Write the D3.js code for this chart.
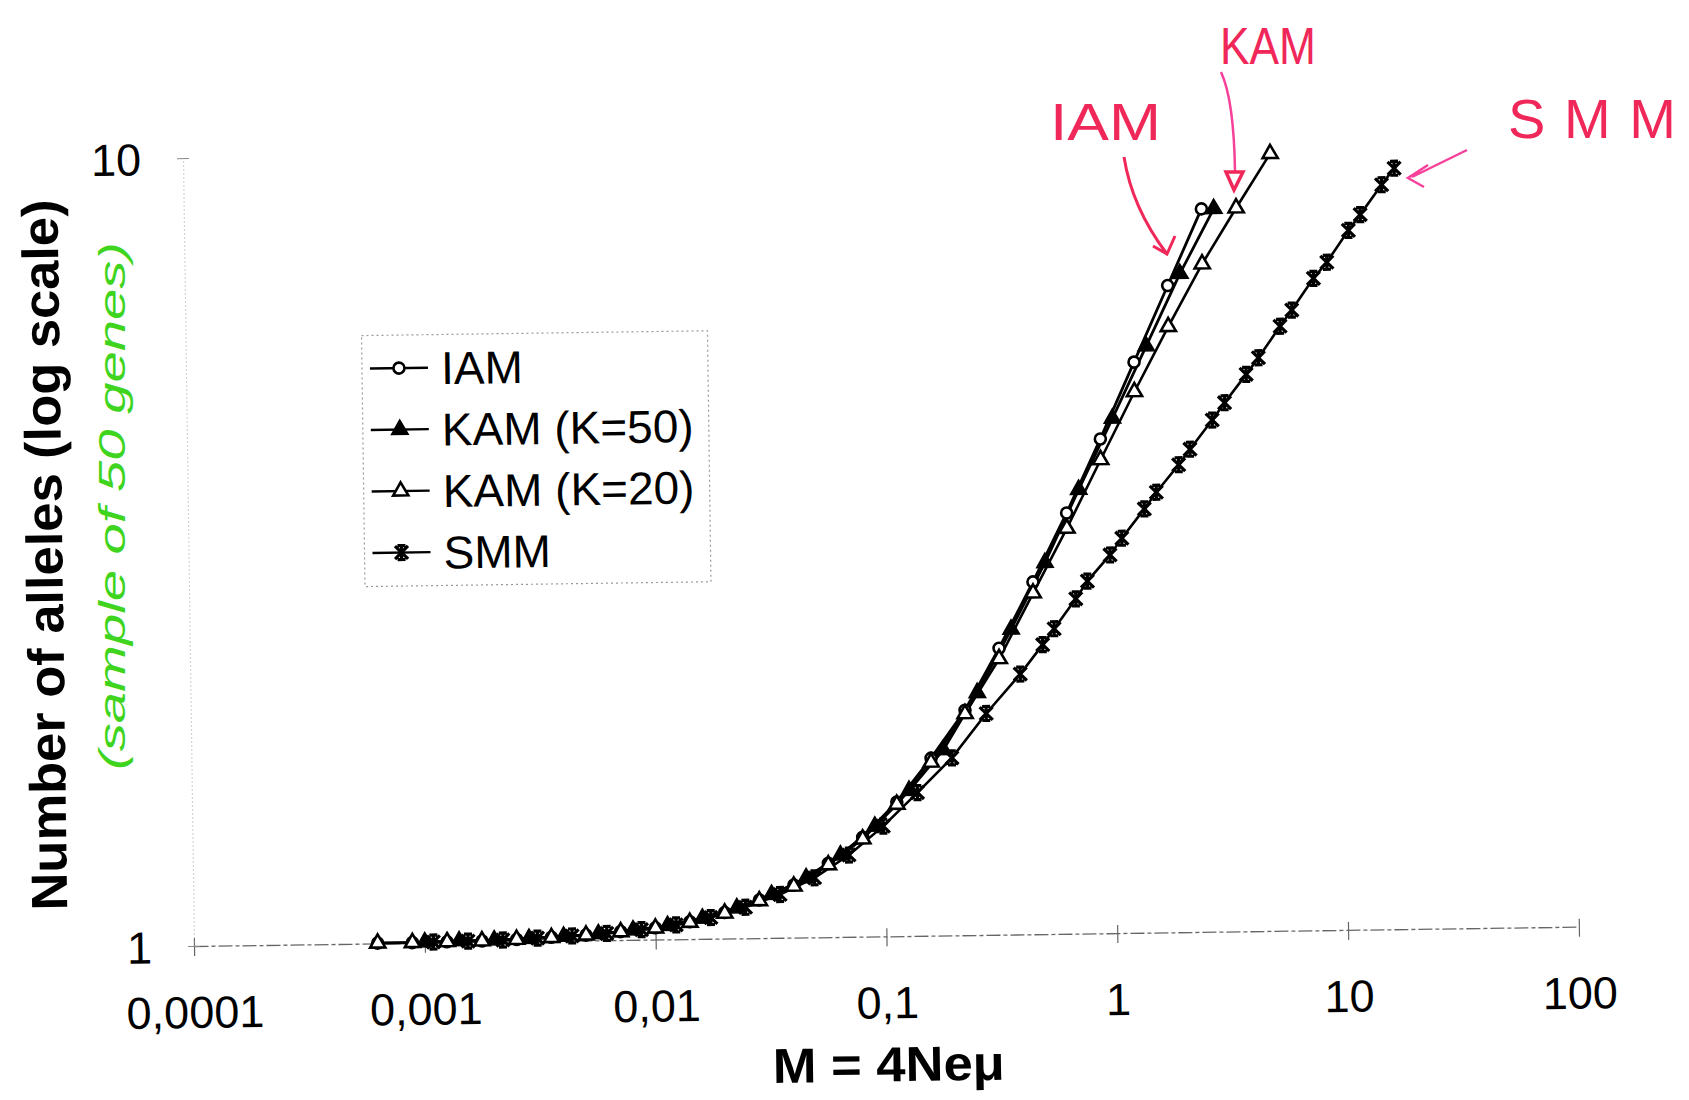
<!DOCTYPE html>
<html>
<head>
<meta charset="utf-8">
<script src="https://cdn.jsdelivr.net/npm/d3@7"></script>
<style>
  html, body { margin: 0; padding: 0; background: #fff; }
  svg { display: block; }
  text { font-family: "Liberation Sans", Arial, sans-serif; }
</style>
</head>
<body>
<svg id="chart" width="1689" height="1100"></svg>
<script>
// values
const iamX = [0.000625, 0.000884, 0.00125, 0.00177, 0.0025, 0.00354, 0.005, 0.00707, 0.01, 0.0141, 0.02, 0.0283, 0.04, 0.0566, 0.08, 0.113, 0.16, 0.226, 0.32, 0.453, 0.64, 0.905, 1.28, 1.81, 2.56];
const iamY = [1.001, 1.001, 1.002, 1.003, 1.006, 1.011, 1.016, 1.025, 1.035, 1.052, 1.079, 1.118, 1.166, 1.241, 1.337, 1.48, 1.68, 1.93, 2.31, 2.80, 3.42, 4.24, 5.30, 6.62, 8.27];

const kam50X = [0.001, 0.00141, 0.002, 0.00283, 0.004, 0.00566, 0.008, 0.0113, 0.016, 0.0226, 0.032, 0.0453, 0.064, 0.0905, 0.128, 0.181, 0.256, 0.362, 0.512, 0.724, 1.024, 1.448, 2.048, 2.896];
const kam50Y = [1.002, 1.004, 1.005, 1.008, 1.013, 1.019, 1.029, 1.041, 1.062, 1.093, 1.135, 1.19, 1.27, 1.38, 1.53, 1.72, 2.03, 2.44, 2.96, 3.66, 4.50, 5.55, 6.85, 8.27];

const kam20X = [0.000625, 0.000884, 0.00125, 0.00177, 0.0025, 0.00354, 0.005, 0.00707, 0.01, 0.0141, 0.02, 0.0283, 0.04, 0.0566, 0.08, 0.113, 0.16, 0.226, 0.32, 0.453, 0.64, 0.905, 1.28, 1.81, 2.56, 3.62, 5.12];
const kam20Y = [1.001, 1.001, 1.002, 1.003, 1.006, 1.010, 1.016, 1.024, 1.034, 1.050, 1.077, 1.115, 1.162, 1.235, 1.33, 1.47, 1.66, 1.91, 2.24, 2.71, 3.27, 3.99, 4.86, 5.87, 7.04, 8.28, 9.69];

const smmX = [0.00109, 0.00154, 0.00218, 0.00308, 0.00435, 0.00615, 0.0087, 0.0123, 0.0174, 0.0246, 0.0348, 0.0492, 0.0696, 0.0984, 0.139, 0.197, 0.279, 0.394, 0.495, 0.556, 0.693, 0.78, 0.981, 1.106, 1.39, 1.57, 1.97, 2.21, 2.77, 3.14, 3.91, 4.43, 5.52, 6.22, 7.75, 8.88, 11.06, 12.47, 15.5, 17.6];
const smmY = [1.002, 1.003, 1.005, 1.009, 1.014, 1.02, 1.03, 1.043, 1.064, 1.095, 1.135, 1.19, 1.27, 1.38, 1.52, 1.68, 1.91, 2.14, 2.33, 2.44, 2.66, 2.80, 3.02, 3.17, 3.45, 3.62, 3.92, 4.10, 4.46, 4.69, 5.09, 5.34, 5.85, 6.13, 6.72, 7.04, 7.72, 8.08, 8.81, 9.24];

const seriesNames = ['IAM', 'KAM (K=50)', 'KAM (K=20)', 'SMM'];
const xTickValues = [0.0001, 0.001, 0.01, 0.1, 1, 10, 100];
const xTickLabels = ['0,0001', '0,001', '0,01', '0,1', '1', '10', '100'];
const yTickValues = [1, 10];
const yTickLabels = ['1', '10'];

const width = 1689, height = 1100;
const svg = d3.select('#chart');
svg.append('rect').attr('width', width).attr('height', height).attr('fill', '#fff');

const x = d3.scaleLog().domain([0.0001, 100]).range([194, 1579]);
const y = d3.scaleLog().domain([1, 10]).range([946, 158]);

// the scan is tilted slightly, so the whole printed chart is rotated a bit
const g = svg.append('g').attr('transform', 'rotate(-0.8, 194, 946)');

// x axis
const xAxis = g.append('g')
  .attr('transform', 'translate(0,946)')
  .call(d3.axisBottom(x).tickValues(xTickValues).tickSizeOuter(0)
    .tickFormat((d, i) => xTickLabels[i]));
xAxis.select('.domain').attr('stroke', '#666').attr('stroke-width', 1.3).attr('stroke-dasharray', '14,3,4,3');
xAxis.selectAll('.tick line').attr('y1', -8).attr('y2', 10).attr('stroke', '#666').attr('stroke-width', 1.2);
xAxis.selectAll('.tick text')
  .attr('y', 82).attr('dy', 0)
  .style('font-size', '45px').style('font-family', '"Liberation Sans", Arial, sans-serif')
  .attr('fill', '#000');

// y axis
const yAxis = g.append('g')
  .attr('transform', 'translate(194,0)')
  .call(d3.axisLeft(y).tickValues(yTickValues).tickSizeOuter(0)
    .tickFormat((d, i) => yTickLabels[i]));
yAxis.select('.domain').attr('stroke', '#aaa').attr('stroke-width', 1.2).attr('stroke-dasharray', '1,3');
yAxis.selectAll('.tick line').attr('x1', -6).attr('x2', 6).attr('stroke', '#888');
yAxis.selectAll('.tick text')
  .attr('x', -42).attr('dy', '0.36em')
  .style('font-size', '45px').style('font-family', '"Liberation Sans", Arial, sans-serif')
  .attr('fill', '#000');

// axis titles
g.append('text')
  .attr('transform', 'translate(50,553) rotate(-90)')
  .attr('text-anchor', 'middle')
  .attr('dy', '0.35em')
  .attr('textLength', 711).attr('lengthAdjust', 'spacingAndGlyphs')
  .style('font-size', '51px').style('font-weight', 'bold')
  .text('Number of alleles (log scale)');

g.append('text')
  .attr('x', 887).attr('y', 1091)
  .attr('text-anchor', 'middle')
  .attr('textLength', 232).attr('lengthAdjust', 'spacingAndGlyphs')
  .style('font-size', '49px').style('font-weight', 'bold')
  .text('M = 4Neμ');

// markers
function drawMarker(sel, type) {
  if (type === 'circle') {
    sel.append('circle').attr('r', 5.5).attr('fill', '#fff').attr('stroke', '#000').attr('stroke-width', 2.6);
  } else if (type === 'triFilled') {
    sel.append('path').attr('d', d3.symbol(d3.symbolTriangle, 120)()).attr('fill', '#000').attr('stroke', '#000').attr('stroke-width', 1.5);
  } else if (type === 'triOpen') {
    sel.append('path').attr('d', d3.symbol(d3.symbolTriangle, 100)()).attr('fill', '#fff').attr('stroke', '#000').attr('stroke-width', 2.6);
  } else {
    sel.append('path').attr('d', 'M-6.5,-6.5L6.5,6.5M-6.5,6.5L6.5,-6.5M0,-7.5L0,7.5M-4,-7L4,-7M-4,7L4,7')
      .attr('fill', 'none').attr('stroke', '#000').attr('stroke-width', 3.2);
  }
}

const series = [
  { name: seriesNames[0], xs: iamX, ys: iamY, marker: 'circle', lw: 2.8 },
  { name: seriesNames[1], xs: kam50X, ys: kam50Y, marker: 'triFilled', lw: 2.8 },
  { name: seriesNames[2], xs: kam20X, ys: kam20Y, marker: 'triOpen', lw: 2.6 },
  { name: seriesNames[3], xs: smmX, ys: smmY, marker: 'star', lw: 2.6 }
];

const line = d3.line().x(d => x(d[0])).y(d => y(d[1]));

series.forEach(s => {
  const pts = s.xs.map((v, i) => [v, s.ys[i]]);
  g.append('path')
    .datum(pts)
    .attr('d', line)
    .attr('fill', 'none')
    .attr('stroke', '#000')
    .attr('stroke-width', s.lw);
});

series.forEach(s => {
  const pts = s.xs.map((v, i) => [v, s.ys[i]]);
  g.append('g').selectAll('g')
    .data(pts)
    .enter()
    .append('g')
    .attr('transform', d => `translate(${x(d[0])},${y(d[1])})`)
    .each(function () { drawMarker(d3.select(this), s.marker); });
});

// legend
const legend = g.append('g').attr('transform', 'translate(370,338)');
legend.append('rect')
  .attr('width', 346).attr('height', 251)
  .attr('fill', 'none').attr('stroke', '#999').attr('stroke-width', 1.2).attr('stroke-dasharray', '2,3');
series.forEach((s, i) => {
  const row = legend.append('g').attr('transform', `translate(0,${33 + i * 61.5})`);
  row.append('line').attr('x1', 8).attr('x2', 66).attr('stroke', '#000').attr('stroke-width', 2.4);
  drawMarker(row.append('g').attr('transform', 'translate(37,0)'), s.marker);
  row.append('text')
    .attr('x', 79).attr('dy', '0.36em')
    .style('font-size', '46px')
    .text(s.name);
});

// handwritten notes added on the printout
const noteColor = '#f0285a';
const arrowColor = '#f7409a';
const notes = svg.append('g');
notes.append('text').attr('x', 1050).attr('y', 140)
  .attr('textLength', 111).attr('lengthAdjust', 'spacingAndGlyphs')
  .style('font-size', '52px').attr('fill', noteColor).text('IAM');
notes.append('text').attr('x', 1220).attr('y', 64)
  .attr('textLength', 96).attr('lengthAdjust', 'spacingAndGlyphs')
  .style('font-size', '52px').attr('fill', noteColor).text('KAM');
notes.append('text').attr('x', 1508).attr('y', 138)
  .attr('textLength', 168).attr('lengthAdjust', 'spacing')
  .style('font-size', '56px').attr('fill', noteColor).text('SMM');

notes.append('path').attr('d', 'M1124,157 C1130,195 1145,225 1167,254 M1153,246 L1167,254 L1175,236')
  .attr('fill', 'none').attr('stroke', noteColor).attr('stroke-width', 3);
notes.append('path').attr('d', 'M1221,72 Q1234,100 1235,172')
  .attr('fill', 'none').attr('stroke', arrowColor).attr('stroke-width', 2.5);
notes.append('path').attr('d', 'M1226,172 L1243,172 L1234,190 Z')
  .attr('fill', 'none').attr('stroke', noteColor).attr('stroke-width', 3.5);
notes.append('path').attr('d', 'M1467,150 L1412,177 M1428,165 L1408,178 L1424,187')
  .attr('fill', 'none').attr('stroke', arrowColor).attr('stroke-width', 2.5);

notes.append('text')
  .attr('transform', 'translate(112,506) rotate(-90)')
  .attr('text-anchor', 'middle').attr('dy', '0.35em')
  .attr('textLength', 528).attr('lengthAdjust', 'spacingAndGlyphs')
  .style('font-size', '36px').style('font-style', 'italic')
  .attr('fill', '#3fd41e')
  .text('(sample of 50 genes)');
</script>
</body>
</html>
